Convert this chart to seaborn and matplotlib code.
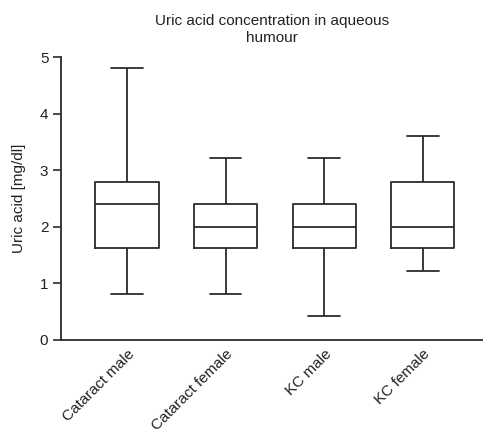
import pandas as pd
import numpy as np
import matplotlib
matplotlib.use("Agg")
import matplotlib.pyplot as plt
import seaborn as sns

groups = ["Cataract male", "Cataract female", "KC male", "KC female"]
# five-number summaries: min, Q1, median, Q3, max
mins = [0.82, 0.82, 0.42, 1.22]
q1s = [1.63, 1.63, 1.63, 1.63]
medians = [2.41, 2.0, 2.0, 2.0]
q3s = [2.8, 2.4, 2.4, 2.8]
maxs = [4.81, 3.21, 3.21, 3.61]

rows = []
for g, a, b, c, d, e in zip(groups, mins, q1s, medians, q3s, maxs):
    for v in (a, b, c, d, e):
        rows.append({"group": g, "uric": v})
df = pd.DataFrame(rows)

sns.set_style("ticks")
plt.rcParams["font.family"] = ["Liberation Sans", "DejaVu Sans"]

fig = plt.figure(figsize=(4.83, 4.33), dpi=100)
ax = fig.add_axes([0.126, 0.215, 0.874, 0.653])

lc = "#2b2b2b"
lw = 1.3
sns.boxplot(data=df, x="group", y="uric", order=groups, whis=(0, 100),
            width=0.64, fill=False, color=lc, linewidth=lw,
            boxprops=dict(color=lc, linewidth=lw),
            medianprops=dict(color=lc, linewidth=lw),
            whiskerprops=dict(color=lc, linewidth=lw),
            capprops=dict(color=lc, linewidth=lw),
            showfliers=False, ax=ax)

ax.set_xlim(-0.67, 3.61)
ax.set_ylim(0, 5)
ax.set_yticks([0, 1, 2, 3, 4, 5])
ax.set_xlabel("")
ax.set_ylabel("Uric acid [mg/dl]", fontsize=11, color="#222222", labelpad=10)
ax.set_title("Uric acid concentration in aqueous\nhumour", fontsize=11,
             color="#222222", pad=11, linespacing=1.25)
ax.tick_params(axis="y", length=6, width=1.2, color=lc, labelsize=11,
               labelcolor="#222222", direction="out", pad=3)
ax.tick_params(axis="x", length=0, labelsize=11, labelcolor="#222222", pad=5)
plt.setp(ax.get_xticklabels(), rotation=45, ha="right", rotation_mode="anchor")
for s in ["top", "right"]:
    ax.spines[s].set_visible(False)
for s in ["left", "bottom"]:
    ax.spines[s].set_color(lc)
    ax.spines[s].set_linewidth(1.3)

fig.savefig("out.png", dpi=100)
